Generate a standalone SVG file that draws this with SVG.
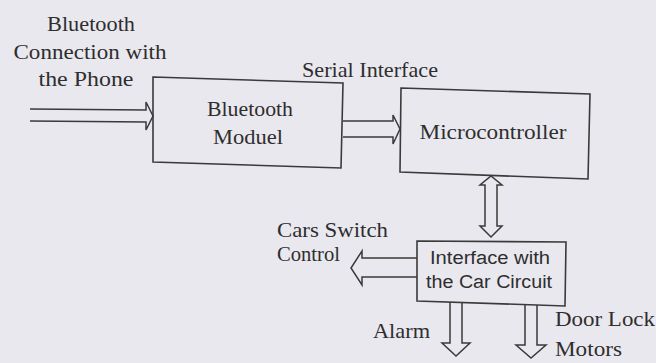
<svg xmlns="http://www.w3.org/2000/svg" width="656" height="363" viewBox="0 0 656 363">
<style>
.bg{fill:#eae8ef}
.box{fill:none;stroke:#3a3a3a;stroke-width:1.6}
.arr{fill:none;stroke:#3a3a3a;stroke-width:1.5;stroke-linejoin:miter}
.t{font-family:"Liberation Serif","Times New Roman",serif;font-size:22px;fill:#2e2e2e}
.s{font-family:"Liberation Sans",Arial,sans-serif;font-size:18px;fill:#2e2e2e}
</style>
<rect class="bg" x="0" y="0" width="656" height="363"/>
<g id="label-phone">
<text class="t" x="91" y="31" text-anchor="middle" textLength="88" lengthAdjust="spacingAndGlyphs">Bluetooth</text>
<text class="t" x="90" y="59" text-anchor="middle" textLength="153" lengthAdjust="spacingAndGlyphs">Connection with</text>
<text class="t" x="86" y="86" text-anchor="middle" textLength="95" lengthAdjust="spacingAndGlyphs">the Phone</text>
</g>
<g id="bluetooth-module">
<path class="box" d="M153,77 L343,83 L341,168 L153,162 Z"/>
<text class="t" x="250" y="116" text-anchor="middle" textLength="86" lengthAdjust="spacingAndGlyphs">Bluetooth</text>
<text class="t" x="248" y="144" text-anchor="middle" textLength="70" lengthAdjust="spacingAndGlyphs">Moduel</text>
</g>
<g id="microcontroller">
<path class="box" d="M401,88 L590,94 L588,179 L400,172 Z"/>
<text class="t" x="493" y="139" text-anchor="middle" textLength="147" lengthAdjust="spacingAndGlyphs">Microcontroller</text>
</g>
<g id="interface">
<path class="box" d="M417,241 L566,242 L565,306 L417,301 Z"/>
<text class="s" x="490" y="264" text-anchor="middle" textLength="120" lengthAdjust="spacingAndGlyphs">Interface with</text>
<text class="s" x="489" y="288" text-anchor="middle" textLength="126" lengthAdjust="spacingAndGlyphs">the Car Circuit</text>
</g>
<g id="labels">
<text class="t" x="370" y="77" text-anchor="middle" textLength="136" lengthAdjust="spacingAndGlyphs">Serial Interface</text>
<text class="t" x="277" y="237" textLength="111" lengthAdjust="spacingAndGlyphs">Cars Switch</text>
<text class="t" x="277" y="261" textLength="63" lengthAdjust="spacingAndGlyphs">Control</text>
<text class="t" x="373" y="338" textLength="57" lengthAdjust="spacingAndGlyphs">Alarm</text>
<text class="t" x="555" y="326" textLength="100" lengthAdjust="spacingAndGlyphs">Door Lock</text>
<text class="t" x="555" y="356" textLength="67" lengthAdjust="spacingAndGlyphs">Motors</text>
</g>
<g id="connectors">
<path class="arr" d="M30,109 L146,110 L146,102 L153,116 L146,130 L146,122 L30,121"/>
<path class="arr" d="M343,121 L393,121 L393,115 L400,129 L393,144 L393,137 L343,137"/>
<path class="arr" d="M485,226 L485,185 L480,185 L491,176 L502,185 L497,185 L497,226 L502,226 L491,237 L480,226 Z"/>
<path class="arr" d="M417,258 L362,258 L362,251 L351,268 L362,285 L362,277 L417,277"/>
<path class="arr" d="M450,302 L450,343 L442,343 L456,356 L470,343 L462,343 L462,303"/>
<path class="arr" d="M525,305 L525,345 L516,345 L531,358 L546,345 L537,345 L537,305"/>
</g>
</svg>
